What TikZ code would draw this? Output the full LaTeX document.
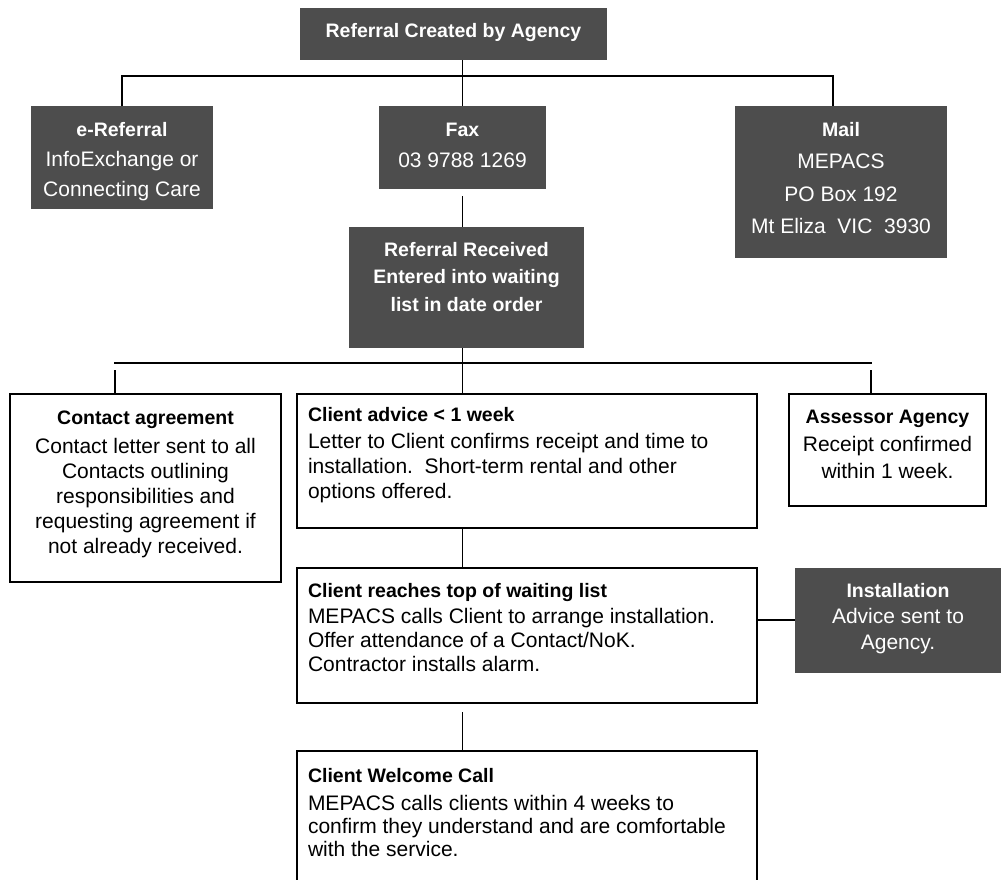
\documentclass[tikz,border=0pt]{standalone}
\usepackage{fontspec}
\setmainfont{Liberation Sans}
\usetikzlibrary{calc}
\definecolor{boxdark}{RGB}{77,77,77}
\tikzset{
  darkbox/.style={fill=boxdark, text=white, inner sep=0pt, outer sep=0pt, anchor=north west},
  litebox/.style={draw=black, line width=1.4pt, fill=white, inner sep=0pt, outer sep=0pt, anchor=north west},
  conn/.style={draw=black, line width=1.5pt},
}
\newcommand\hb[1]{{\fontsize{19.5}{20}\selectfont\bfseries #1}}
% #1 width, #2 height, #3 first baseline, #4 line skip, #5 alignment, #6 text
\newcommand\bxt[6]{\parbox[t][#2pt][t]{#1pt}{#5\fontsize{21}{#4pt}\selectfont\rule{0pt}{#3pt}#6}}
\newcommand\lft{\raggedright\leftskip=11pt\relax}
\begin{document}
\begin{tikzpicture}[x=1pt,y=-1pt]
\clip (0,0) rectangle (1002,879);
\fill[white] (0,0) rectangle (1002,879);

\node[darkbox] (top) at (300,8) {\bxt{307}{52}{29}{24}{\centering}{\hb{Referral Created by Agency}}};
\node[darkbox] (eref) at (31,106) {\bxt{182}{103}{30}{30}{\centering}{\hb{e-Referral}\\ InfoExchange or\\ Connecting Care}};
\node[darkbox] (fax) at (379,106) {\bxt{167}{83}{30}{31}{\centering}{\hb{Fax}\\ 03 9788 1269}};
\node[darkbox] (mail) at (735,106) {\bxt{212}{152}{30}{32.5}{\centering}{\hb{Mail}\\ MEPACS\\ PO Box 192\\ Mt Eliza\ \ VIC\ \ 3930}};
\node[darkbox] (rr) at (349,227) {\bxt{235}{121}{29}{27.5}{\centering}{\hb{Referral Received}\\ \hb{Entered into waiting}\\ \hb{list in date order}}};

\node[litebox] (contact) at (10,394) {\bxt{271}{188}{30}{25}{\centering}{\hb{Contact agreement}\\[4pt] Contact letter sent to all\\ Contacts outlining\\ responsibilities and\\ requesting agreement if\\ not already received.}};
\node[litebox] (advice) at (297,394) {\bxt{460}{134}{27}{25}{\lft}{\hb{Client advice < 1 week}\\[2pt] Letter to Client confirms receipt and time to\\ installation.\ \ Short-term rental and other\\ options offered.}};
\node[litebox] (assessor) at (789,394) {\bxt{197}{112}{29}{27}{\centering}{\hb{Assessor Agency}\\[1pt] Receipt confirmed\\ within 1 week.}};
\node[litebox] (reach) at (297,568) {\bxt{460}{135}{29}{24}{\lft}{\hb{Client reaches top of waiting list}\\[2pt] MEPACS calls Client to arrange installation.\\ Offer attendance of a Contact/NoK.\\ Contractor installs alarm.}};
\node[darkbox] (install) at (795,568) {\bxt{206}{105}{29}{26}{\centering}{\hb{Installation}\\ Advice sent to\\ Agency.}};
\node[litebox] (welcome) at (297,751) {\bxt{460}{200}{31}{23}{\lft}{\hb{Client Welcome Call}\\[5pt] MEPACS calls clients within 4 weeks to\\ confirm they understand and are comfortable\\ with the service.}};

% connectors
\coordinate (busL) at (122,76);
\coordinate (busR) at (833,76);
\draw[conn] (top.south -| fax.north) -- (fax.north);
\draw[conn] (eref.north) -- (eref.north |- busL) -- (busR) -- (busR |- mail.north);
\draw[conn] ([yshift=-7pt]fax.south) -- (fax.south |- rr.north);

\coordinate (bus2L) at (114,363);
\coordinate (bus2R) at (872,363);
\coordinate (dropL) at (115,370);
\coordinate (dropR) at (871,370);
\draw[conn] (bus2L) -- (bus2R);
\draw[conn] (rr.south -| fax.south) -- (fax.south |- advice.north);
\draw[conn] (dropL) -- (dropL |- contact.north);
\draw[conn] (dropR) -- (dropR |- assessor.north);

\draw[conn] (advice.south -| fax.south) -- (fax.south |- reach.north);
\draw[conn] ([yshift=-9pt]reach.south -| fax.south) -- (fax.south |- welcome.north);
\coordinate (instY) at (0,620);
\draw[conn] (reach.east |- instY) -- (install.west |- instY);
\end{tikzpicture}
\end{document}
